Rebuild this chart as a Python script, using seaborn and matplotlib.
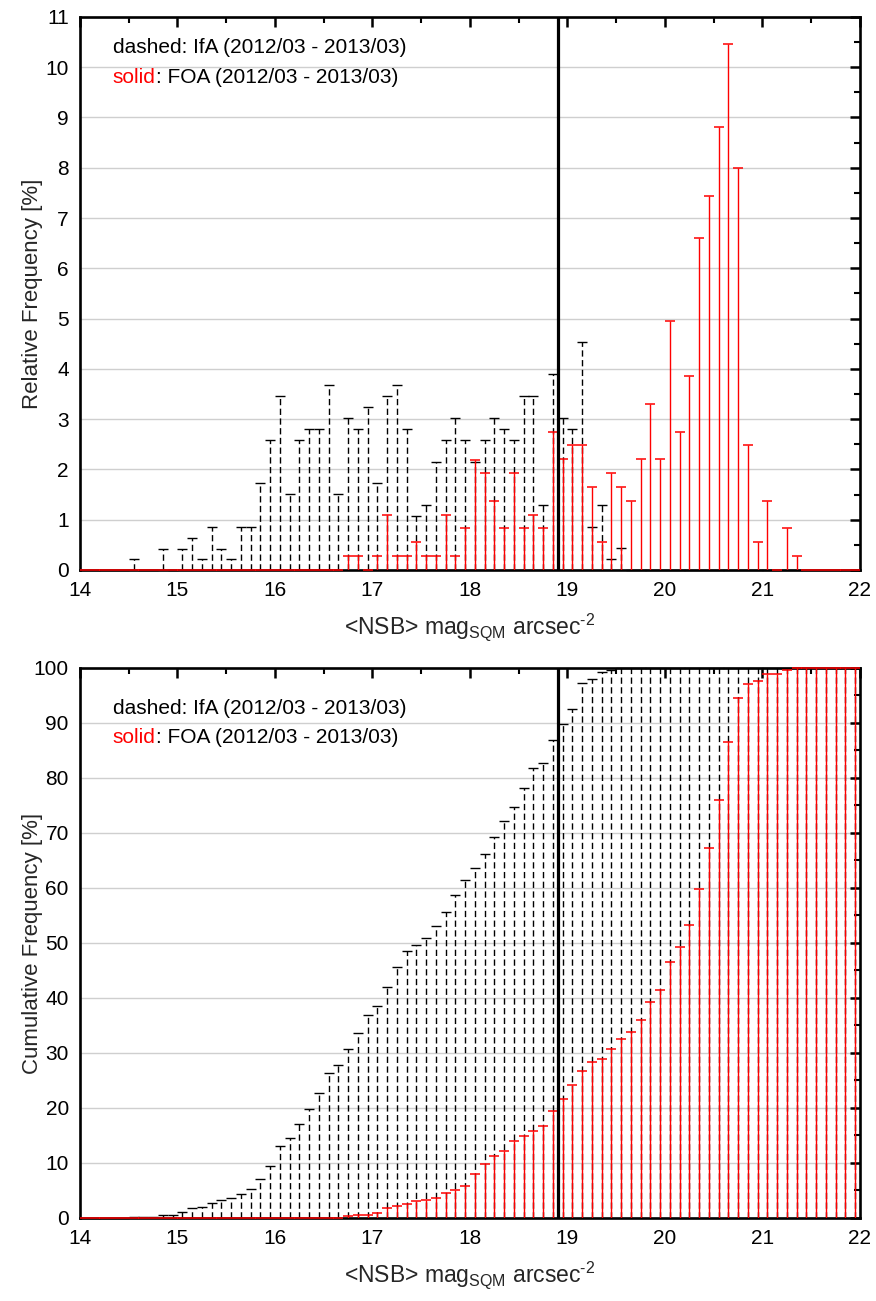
import numpy as np
import seaborn as sns
import matplotlib
matplotlib.use('Agg')
import matplotlib.pyplot as plt

# Bin centres of the 0.1 mag wide NSB bins (14.05 ... 21.95)
nsb_bins = np.round(np.arange(14.05, 22.0, 0.1), 2)

# Relative frequency [%] per bin
ifa_rel = [0, 0, 0, 0, 0, 0.21, 0, 0, 0.42, 0,
           0.42, 0.64, 0.21, 0.86, 0.42, 0.21, 0.86, 0.86, 1.72, 2.58,
           3.46, 1.51, 2.58, 2.80, 2.80, 3.68, 1.51, 3.02, 2.80, 3.24,
           1.72, 3.46, 3.68, 2.80, 1.08, 1.29, 2.15, 2.58, 3.02, 2.58,
           2.15, 2.58, 3.02, 2.80, 2.58, 3.46, 3.46, 1.29, 3.89, 3.02,
           2.80, 4.54, 0.86, 1.29, 0.21, 0.43, 0, 0, 0, 0,
           0, 0, 0, 0, 0, 0, 0, 0, 0, 0,
           0, 0, 0, 0, 0, 0, 0, 0, 0, 0]
foa_rel = [0, 0, 0, 0, 0, 0, 0, 0, 0, 0,
           0, 0, 0, 0, 0, 0, 0, 0, 0, 0,
           0, 0, 0, 0, 0, 0, 0, 0.28, 0.28, 0,
           0.28, 1.09, 0.28, 0.28, 0.55, 0.28, 0.28, 1.09, 0.28, 0.83,
           2.19, 1.92, 1.37, 0.83, 1.92, 0.83, 1.09, 0.83, 2.75, 2.20,
           2.48, 2.48, 1.66, 0.55, 1.93, 1.66, 1.38, 2.20, 3.30, 2.20,
           4.96, 2.75, 3.86, 6.61, 7.44, 8.81, 10.47, 7.99, 2.48, 0.55,
           1.38, 0, 0.83, 0.28, 0, 0, 0, 0, 0, 0]

# Cumulative frequency [%] per bin
ifa_cum = [0, 0, 0, 0, 0, 0.2, 0.2, 0.2, 0.6, 0.6,
           1.1, 1.75, 1.95, 2.8, 3.25, 3.55, 4.35, 5.2, 7.0, 9.5,
           13.0, 14.5, 17.1, 19.9, 22.7, 26.3, 27.8, 30.8, 33.6, 36.9,
           38.6, 42.0, 45.7, 48.5, 49.6, 50.9, 53.0, 55.7, 58.7, 61.5,
           63.6, 66.2, 69.2, 72.1, 74.7, 78.1, 81.8, 82.8, 86.9, 89.8,
           92.5, 97.2, 98.0, 99.3, 99.6, 100, 100, 100, 100, 100,
           100, 100, 100, 100, 100, 100, 100, 100, 100, 100,
           100, 100, 100, 100, 100, 100, 100, 100, 100, 100]
foa_cum = [0, 0, 0, 0, 0, 0, 0, 0, 0, 0,
           0, 0, 0, 0, 0, 0, 0, 0, 0, 0,
           0, 0, 0, 0, 0, 0, 0, 0.28, 0.55, 0.55,
           0.85, 1.9, 2.2, 2.5, 3.0, 3.3, 3.6, 4.6, 5.0, 5.8,
           8.0, 9.9, 11.3, 12.1, 14.0, 14.9, 15.9, 16.8, 19.5, 21.7,
           24.2, 26.7, 28.3, 28.9, 30.8, 32.5, 33.8, 36.0, 39.3, 41.5,
           46.5, 49.3, 53.2, 59.8, 67.2, 76.0, 86.5, 94.5, 97.0, 97.6,
           98.9, 98.9, 99.7, 100, 100, 100, 100, 100, 100, 100]

# Vertical reference line
ref_mag = 18.9

sns.set_theme(style="white")
plt.rcParams['font.family'] = ['Liberation Sans', 'DejaVu Sans']
plt.rcParams['mathtext.fontset'] = 'custom'
plt.rcParams['mathtext.rm'] = 'Liberation Sans'
plt.rcParams['axes.unicode_minus'] = False
narrow = ['Liberation Sans Narrow', 'Liberation Sans', 'DejaVu Sans']


def draw_panel(ax, ifa, foa, ymax, ystep, ylabel, text_y):
    """
    Draw one drop-line panel with IfA (dashed) and FOA (solid) values.
    """
    # Drop lines with caps
    ax.vlines(nsb_bins, 0, ifa, colors='black', linestyles=(0, (4.5, 2.5)),
              linewidth=1.0, zorder=3)
    sns.scatterplot(x=nsb_bins, y=ifa, marker='_', s=42, color='black',
                    linewidth=1.0, ax=ax, zorder=4, clip_on=False)
    ax.vlines(nsb_bins, 0, foa, colors='#ff0000', linestyles='solid',
              linewidth=1.0, zorder=5)
    sns.scatterplot(x=nsb_bins, y=foa, marker='_', s=52, color='#ff0000',
                    linewidth=1.1, ax=ax, zorder=6, clip_on=False)

    ax.axvline(ref_mag, color='black', linewidth=2.3, zorder=7)

    # Axes
    ax.set_xlim(14, 22)
    ax.set_ylim(0, ymax)
    ax.set_xticks(np.arange(14, 23, 1))
    ax.set_xticks(np.arange(14, 22.01, 0.5), minor=True)
    ax.set_yticks(np.arange(0, ymax + 0.01, ystep))
    ax.set_yticks(np.arange(0, ymax + 0.01, ystep / 2), minor=True)
    ax.yaxis.grid(True, color='#cfcfcf', linewidth=1.0)
    ax.xaxis.grid(False)
    ax.set_axisbelow(True)
    ax.tick_params(which='both', direction='in', top=True, right=True,
                   colors='black', labelsize=15)
    ax.tick_params(which='major', length=7, width=1.8, pad=8)
    ax.tick_params(which='minor', length=4, width=1.5)
    for lab in ax.get_xticklabels() + ax.get_yticklabels():
        lab.set_family(narrow)
    for sp in ax.spines.values():
        sp.set_linewidth(1.9)
        sp.set_color('black')

    ax.set_xlabel('<NSB> mag$_\\mathregular{SQM}$ arcsec$^\\mathregular{\u20102}$',
                  fontsize=16.5, labelpad=8)
    ax.set_ylabel(ylabel, fontsize=16)
    ax.yaxis.set_label_coords(-0.048, 0.5)

    # Text legend
    ax.text(0.042, text_y, 'dashed: IfA (2012/03 - 2013/03)', transform=ax.transAxes,
            fontsize=15, color='black', va='center', ha='left', zorder=8)
    t = ax.text(0.042, text_y - 0.054, 'solid', transform=ax.transAxes,
                fontsize=15, color='#ff0000', va='center', ha='left', zorder=8)
    ax.annotate(': FOA (2012/03 - 2013/03)', xy=(1, 0), xycoords=t,
                fontsize=15, color='black', va='bottom', ha='left', zorder=8)


fig = plt.figure(figsize=(8.76, 13.01), dpi=100)
ax1 = fig.add_axes([0.0913, 0.5619, 0.8904, 0.4251])
ax2 = fig.add_axes([0.0913, 0.0638, 0.8904, 0.4228])

draw_panel(ax1, ifa_rel, foa_rel, 11, 1, 'Relative Frequency [%]', 0.944)
draw_panel(ax2, ifa_cum, foa_cum, 100, 10, 'Cumulative Frequency [%]', 0.927)

fig.savefig('out.png', dpi=100)
